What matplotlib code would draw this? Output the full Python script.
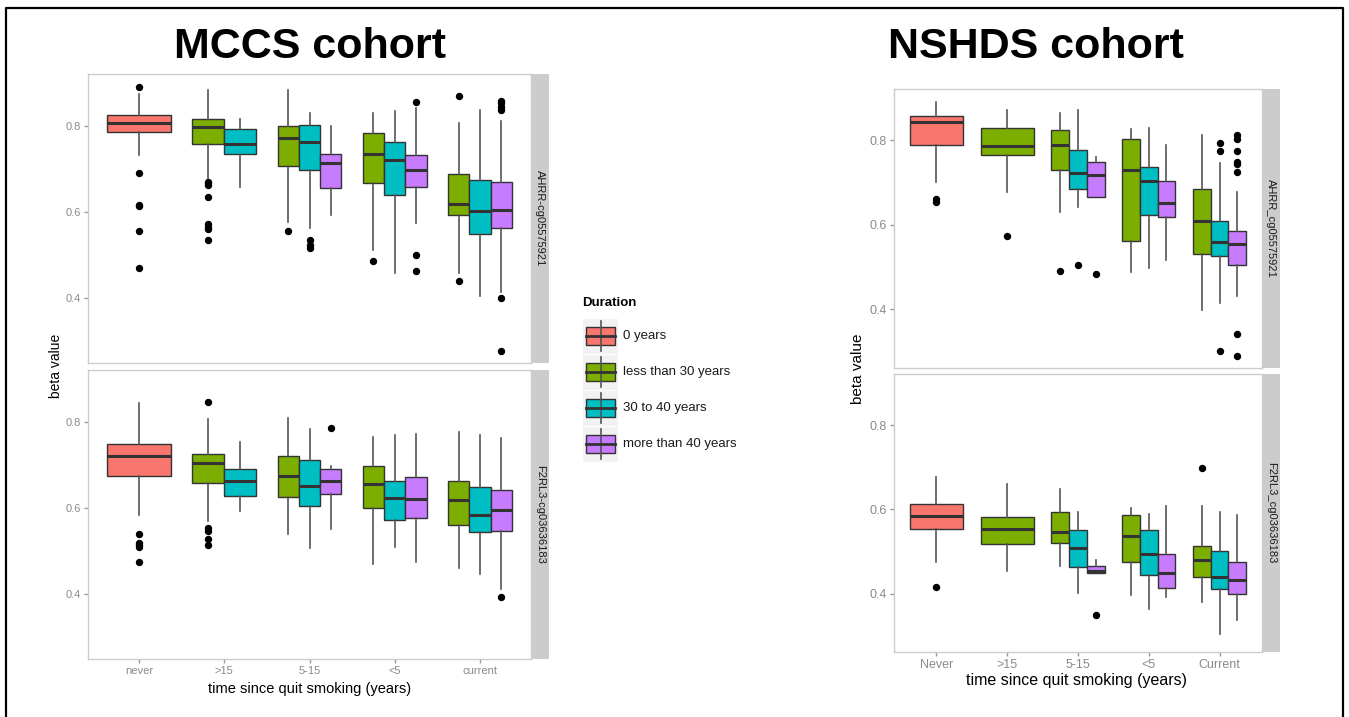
import matplotlib
matplotlib.use("Agg")
import matplotlib.pyplot as plt
from matplotlib.patches import Rectangle
from matplotlib.lines import Line2D

plt.rcParams["font.family"] = ["Liberation Sans", "DejaVu Sans"]

# ---------------------------------------------------
# Data
# ---------------------------------------------------
groups = ["0 years", "less than 30 years", "30 to 40 years", "more than 40 years"]
group_colors = ["#F8766D", "#7CAE00", "#00BFC4", "#C77CFF"]

mccs_cats = ["never", ">15", "5-15", "<5", "current"]
nshds_cats = ["Never", ">15", "5-15", "<5", "Current"]

# rows: (category index, group index, whislo, q1, med, q3, whishi, fliers)
mccs_ahrr = [
    (0, 0, 0.734, 0.787, 0.809, 0.827, 0.876, [0.891, 0.691, 0.618, 0.614, 0.557, 0.472]),
    (1, 1, 0.680, 0.760, 0.798, 0.818, 0.884, [0.672, 0.668, 0.664, 0.635, 0.573, 0.567, 0.561, 0.535]),
    (1, 2, 0.660, 0.736, 0.760, 0.794, 0.817, []),
    (2, 1, 0.578, 0.709, 0.773, 0.800, 0.884, [0.556]),
    (2, 2, 0.564, 0.699, 0.765, 0.803, 0.831, [0.535, 0.525, 0.517]),
    (2, 3, 0.595, 0.657, 0.715, 0.736, 0.800, []),
    (3, 1, 0.513, 0.668, 0.736, 0.784, 0.831, [0.488]),
    (3, 2, 0.460, 0.640, 0.722, 0.763, 0.837, []),
    (3, 3, 0.575, 0.659, 0.699, 0.733, 0.843, [0.856, 0.500, 0.465]),
    (4, 1, 0.459, 0.595, 0.619, 0.689, 0.808, [0.870, 0.440]),
    (4, 2, 0.406, 0.549, 0.604, 0.676, 0.839, []),
    (4, 3, 0.416, 0.565, 0.606, 0.670, 0.812, [0.860, 0.854, 0.845, 0.839, 0.400, 0.279]),
]

mccs_f2rl3 = [
    (0, 0, 0.585, 0.676, 0.721, 0.750, 0.846, [0.540, 0.520, 0.515, 0.511, 0.475]),
    (1, 1, 0.571, 0.660, 0.706, 0.727, 0.807, [0.848, 0.555, 0.547, 0.528, 0.516]),
    (1, 2, 0.593, 0.630, 0.663, 0.692, 0.754, []),
    (2, 1, 0.541, 0.626, 0.676, 0.722, 0.811, []),
    (2, 2, 0.509, 0.605, 0.653, 0.712, 0.784, []),
    (2, 3, 0.553, 0.634, 0.664, 0.692, 0.698, [0.787]),
    (3, 1, 0.472, 0.600, 0.656, 0.698, 0.766, []),
    (3, 2, 0.510, 0.574, 0.625, 0.663, 0.772, []),
    (3, 3, 0.476, 0.578, 0.622, 0.673, 0.774, []),
    (4, 1, 0.462, 0.562, 0.619, 0.663, 0.778, []),
    (4, 2, 0.448, 0.545, 0.585, 0.649, 0.771, []),
    (4, 3, 0.412, 0.547, 0.596, 0.642, 0.764, [0.395]),
]

nshds_ahrr = [
    (0, 0, 0.701, 0.789, 0.843, 0.857, 0.891, [0.661, 0.654]),
    (1, 1, 0.677, 0.765, 0.786, 0.829, 0.873, [0.574]),
    (2, 1, 0.630, 0.730, 0.790, 0.824, 0.866, [0.491]),
    (2, 2, 0.643, 0.685, 0.724, 0.777, 0.873, [0.505]),
    (2, 3, 0.667, 0.667, 0.718, 0.749, 0.762, [0.483]),
    (3, 1, 0.488, 0.563, 0.730, 0.803, 0.827, []),
    (3, 2, 0.497, 0.624, 0.705, 0.738, 0.829, []),
    (3, 3, 0.518, 0.618, 0.653, 0.705, 0.790, []),
    (4, 1, 0.398, 0.530, 0.609, 0.685, 0.812, []),
    (4, 2, 0.414, 0.527, 0.560, 0.609, 0.746, [0.795, 0.774, 0.301]),
    (4, 3, 0.432, 0.505, 0.554, 0.586, 0.677, [0.812, 0.804, 0.775, 0.750, 0.744, 0.726, 0.341, 0.290]),
]

nshds_f2rl3 = [
    (0, 0, 0.475, 0.553, 0.585, 0.614, 0.676, [0.415]),
    (1, 1, 0.453, 0.517, 0.553, 0.582, 0.661, []),
    (2, 1, 0.465, 0.519, 0.547, 0.593, 0.648, []),
    (2, 2, 0.402, 0.463, 0.508, 0.550, 0.593, []),
    (2, 3, 0.449, 0.449, 0.454, 0.465, 0.480, [0.348]),
    (3, 1, 0.396, 0.476, 0.537, 0.587, 0.603, []),
    (3, 2, 0.364, 0.443, 0.494, 0.550, 0.589, []),
    (3, 3, 0.391, 0.414, 0.450, 0.494, 0.607, []),
    (4, 1, 0.379, 0.439, 0.480, 0.512, 0.609, [0.698]),
    (4, 2, 0.303, 0.410, 0.439, 0.502, 0.593, []),
    (4, 3, 0.337, 0.398, 0.433, 0.476, 0.587, []),
]

W, H = 1349, 717


def rect(x0, y0, x1, y1):
    # pixel box -> figure fraction
    return [x0 / W, 1 - y1 / H, (x1 - x0) / W, (y1 - y0) / H]


def draw_panel(ax, rows, cats, ylim, tick_size, show_x):
    stats, pos, widths, cols = [], [], [], []
    for c in range(len(cats)):
        present = [r for r in rows if r[0] == c]
        n = len(present)
        w = 0.75 / n
        for k, r in enumerate(present):
            stats.append(dict(whislo=r[2], q1=r[3], med=r[4], q3=r[5], whishi=r[6], fliers=r[7]))
            pos.append(c + 1 - 0.375 + w * (k + 0.5))
            widths.append(w)
            cols.append(group_colors[r[1]])
    out = ax.bxp(
        stats, positions=pos, widths=widths, patch_artist=True, showcaps=False,
        boxprops=dict(edgecolor="#333333", linewidth=1.0),
        medianprops=dict(color="#333333", linewidth=2.2),
        whiskerprops=dict(color="#555555", linewidth=1.2),
        flierprops=dict(marker="o", markerfacecolor="black", markeredgecolor="black",
                        markersize=4.3),
        manage_ticks=False,
    )
    for b, col in zip(out["boxes"], cols):
        b.set_facecolor(col)
    ax.set_xlim(0.4, 5.6)
    ax.set_ylim(*ylim)
    ax.set_yticks([0.4, 0.6, 0.8])
    ax.set_yticklabels(["0.4", "0.6", "0.8"])
    ax.set_xticks(range(1, len(cats) + 1))
    ax.tick_params(colors="#999999", labelcolor="#8a8a8a", labelsize=tick_size,
                   length=3, width=1, pad=2)
    if show_x:
        ax.set_xticklabels(cats)
    else:
        ax.set_xticks([])
    for s in ax.spines.values():
        s.set_color("#CCCCCC")
        s.set_linewidth(1.0)


def draw_strip(fig, box, label, size):
    sa = fig.add_axes(rect(*box))
    sa.set_facecolor("#CCCCCC")
    sa.set_xticks([])
    sa.set_yticks([])
    for s in sa.spines.values():
        s.set_visible(False)
    sa.text(0.5, 0.5, label, rotation=270, ha="center", va="center",
            fontsize=size, color="#1a1a1a", transform=sa.transAxes)


fig = plt.figure(figsize=(W / 100, H / 100), dpi=100)

# MCCS cohort
ax1 = fig.add_axes(rect(88, 74, 531, 363))
draw_panel(ax1, mccs_ahrr, mccs_cats, (0.25, 0.922), 8, False)
draw_strip(fig, (531, 74, 549, 363), "AHRR-cg05575921", 8)
ax2 = fig.add_axes(rect(88, 370, 531, 659))
draw_panel(ax2, mccs_f2rl3, mccs_cats, (0.25, 0.922), 8, True)
draw_strip(fig, (531, 370, 549, 659), "F2RL3-cg03636183", 8)

# NSHDS cohort
ax3 = fig.add_axes(rect(894, 89, 1262, 368))
draw_panel(ax3, nshds_ahrr, nshds_cats, (0.261, 0.922), 9, False)
draw_strip(fig, (1262, 89, 1280, 368), "AHRR_cg05575921", 8)
ax4 = fig.add_axes(rect(894, 374, 1262, 652))
draw_panel(ax4, nshds_f2rl3, nshds_cats, (0.261, 0.922), 9, True)
draw_strip(fig, (1262, 374, 1280, 652), "F2RL3_cg03636183", 8)

# overlay in pixel coordinates: titles, labels, legend, frame
ov = fig.add_axes([0, 0, 1, 1], zorder=10)
ov.set_xlim(0, W)
ov.set_ylim(H, 0)
ov.axis("off")
ov.patch.set_alpha(0)

ov.plot([6, 6, 1343, 1343], [H, 8, 8, H], color="black", lw=1.6)

ov.text(310, 47, "MCCS cohort", ha="center", va="center", fontsize=31,
        fontweight="bold", stretch="condensed")
ov.text(1036, 47, "NSHDS cohort", ha="center", va="center", fontsize=31,
        fontweight="bold", stretch="condensed")

ov.text(310, 689, "time since quit smoking (years)", ha="center", va="center", fontsize=10.5)
ov.text(1077, 681, "time since quit smoking (years)", ha="center", va="center", fontsize=11.5)
ov.text(56, 366, "beta value", ha="center", va="center", rotation=90, fontsize=10)
ov.text(858, 369, "beta value", ha="center", va="center", rotation=90, fontsize=11)

# legend
ov.text(582, 303, "Duration", ha="left", va="center", fontsize=9.5, fontweight="bold")
for i, (g, col) in enumerate(zip(groups, group_colors)):
    cy = 336 + 36 * i
    ov.add_patch(Rectangle((583, cy - 17.5), 35, 35, facecolor="#F2F2F2", edgecolor="none"))
    ov.add_line(Line2D([600.5, 600.5], [cy - 15, cy + 15], color="#555555", lw=1.2))
    ov.add_patch(Rectangle((586, cy - 9), 29, 18, facecolor=col, edgecolor="#333333", lw=1))
    ov.add_line(Line2D([586, 615], [cy, cy], color="#333333", lw=2))
    ov.text(623, cy, g, ha="left", va="center", fontsize=9.5, color="#1a1a1a")

fig.savefig("out.png", dpi=100)
